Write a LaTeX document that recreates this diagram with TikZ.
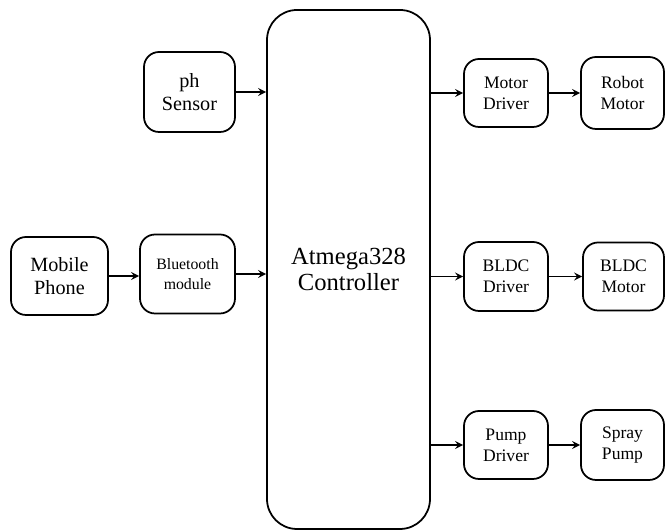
\documentclass[tikz,border=0pt]{standalone}
\usepackage{fontspec}
\setmainfont{Liberation Serif}
\begin{document}
\begin{tikzpicture}[>=stealth,line width=1pt,
		blk/.style={draw,rounded corners=0.3cm,align=center,inner sep=0pt},
		big/.style={font=\fontsize{11.5}{13}\selectfont},
		small/.style={font=\fontsize{10}{12}\selectfont}]
			\useasboundingbox (0,0) rectangle (13.3,10.6);
			\node[blk,rounded corners=0.6cm,minimum width=3.26cm,minimum height=10.38cm,font=\fontsize{14}{14.5}\selectfont] (ctrl) at (6.97,5.21) {Atmega328\\Controller};
			\node[blk,big,minimum width=1.82cm,minimum height=1.6cm] (ph) at (3.79,8.76) {ph\\Sensor};
			\node[blk,big,minimum width=1.94cm,minimum height=1.56cm] (phone) at (1.19,5.08) {Mobile\\Phone};
			\node[blk,minimum width=1.9cm,minimum height=1.58cm,font=\fontsize{9}{11}\selectfont] (bt) at (3.75,5.12) {Bluetooth\\module};
			\node[blk,small,minimum width=1.68cm,minimum height=1.36cm] (md) at (10.12,8.74) {Motor\\Driver};
			\node[blk,small,minimum width=1.66cm,minimum height=1.44cm] (rm) at (12.45,8.74) {Robot\\Motor};
			\node[blk,small,minimum width=1.68cm,minimum height=1.38cm] (bd) at (10.12,5.07) {BLDC\\Driver};
			\node[blk,small,minimum width=1.62cm,minimum height=1.36cm] (bm) at (12.47,5.07) {BLDC\\Motor};
			\node[blk,small,minimum width=1.68cm,minimum height=1.36cm] (pd) at (10.12,1.7) {Pump\\Driver};
			\node[blk,small,minimum width=1.66cm,minimum height=1.4cm] (sp) at (12.45,1.7) {Spray\\Pump};
			\draw[->] (ph.east) -- (ph.east -| ctrl.west);
			\draw[->] (phone.east) -- (phone.east -| bt.west);
			\draw[->] (bt.east) -- (bt.east -| ctrl.west);
			\draw[->] (ctrl.east |- md.west) -- (md.west);
			\draw[->] (ctrl.east |- bd.west) -- (bd.west);
			\draw[->] (ctrl.east |- pd.west) -- (pd.west);
			\draw[->] (md) -- (rm);
			\draw[->] (bd) -- (bm);
			\draw[->] (pd) -- (sp);
\end{tikzpicture}
\end{document}
